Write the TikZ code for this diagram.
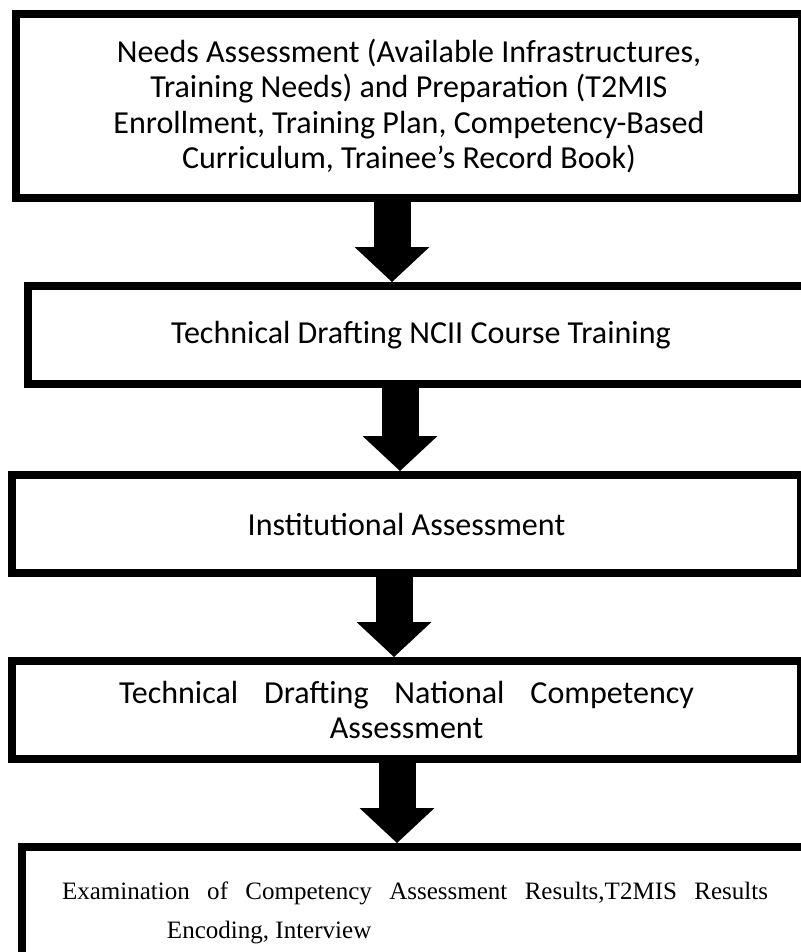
\documentclass[tikz,border=0pt]{standalone}
\usepackage{fontspec}
\setmainfont{Carlito}
\newfontfamily\serifbody{Liberation Serif}
\usetikzlibrary{arrows.meta, positioning}

\begin{document}
\begin{tikzpicture}[
    every node/.style={font=\fontsize{22.8}{24.9}\selectfont},
    stage/.style={rectangle, draw, line width=0.2cm, fill=white, minimum width=19.65cm, minimum height=2.45cm, align=center},
    blockarrow/.style={line width=0.925cm, -{Triangle[length=0.875cm, width=1.875cm, line width=0pt]}}
]
\useasboundingbox (0,0) rectangle (20.025,-23.8);
\clip (0,0) rectangle (20.025,-23.8);

\node[stage, minimum height=4.6cm] (needs) at (10.225,-2.65) {Needs Assessment (Available Infrastructures,\\ Training Needs) and Preparation (T2MIS\\ Enrollment, Training Plan, Competency-Based\\ Curriculum, Trainee’s Record Book)};
\node[stage, below=2cm of needs, xshift=0.3cm] (course) {Technical Drafting NCII Course Training};
\node[stage, below=2.075cm of course, xshift=-0.3625cm, minimum width=19.725cm] (inst) {Institutional Assessment};
\node[stage, below=2cm of inst, minimum width=19.725cm] (nca) {\makebox[14.375cm][s]{Technical Drafting National Competency}\\ Assessment};
\node[stage, below=2cm of nca, xshift=0.2125cm, minimum height=3.275cm, align=left, font=\serifbody\fontsize{17.8}{27.7}\selectfont] (results) {\makebox[17.65cm][s]{Examination of Competency Assessment Results,T2MIS Results}\\ \hspace*{2.625cm}Encoding, Interview};

% block arrows between the stages
\foreach \i/\j/\x in {needs/course/9.8, course/inst/10.0, inst/nca/9.85, nca/results/9.925}
    \draw[blockarrow] (\i.south -| \x,0) -- (\j.north -| \x,0);

\end{tikzpicture}
\end{document}
